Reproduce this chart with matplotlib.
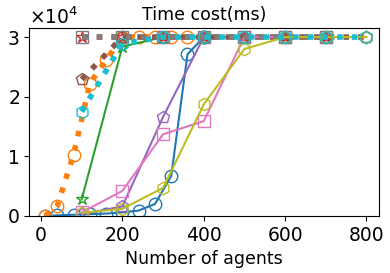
import matplotlib
matplotlib.use("Agg")
import matplotlib.pyplot as plt

# x positions
x_fine = [10, 40, 80, 120, 160, 200, 240, 280, 320, 360, 400]
x_coarse = [100, 200, 300, 400, 500, 600, 700]
x_coarse8 = [100, 200, 300, 400, 500, 600, 700, 800]

# time cost (ms) per series
blue = [0, 100, 200, 300, 400, 600, 900, 2000, 6700, 27100, 30000]
orange = [0, 1700, 10300, 22200, 26100, 30000, 30000, 30000, 30000, 30000, 30000]
green = [2800, 28400, 30000, 30000, 30000, 30000, 30000]
red = [30000, 30000, 30000, 30000, 30000, 30000, 30000]
purple = [300, 1600, 16600, 30000, 30000, 30000, 30000]
brown = [22900, 30000, 30000, 30000, 30000, 30000, 30000, 30000]
pink = [600, 4200, 13700, 15900, 30000, 30000, 30000]
grey = [30000, 30000, 30000, 30000, 30000, 30000, 30000]
olive = [500, 1200, 4700, 18700, 28000, 30000, 30000, 30000]
cyan = [17500, 28900, 30000, 30000, 30000, 30000, 30000, 30000]

fig = plt.figure(figsize=(3.9, 2.73), dpi=100)
ax = fig.add_axes([0.075, 0.209, 0.898, 0.688])

solid = dict(linestyle='-', linewidth=1.5, markersize=9, markerfacecolor='none')
dotted = dict(linestyle=':', linewidth=4, markersize=9, markerfacecolor='none')

ax.plot(x_fine, blue, marker='o', color='tab:blue', **solid)
ax.plot(x_fine, orange, marker='o', color='tab:orange', **dotted)
ax.plot(x_coarse, green, marker='*', color='tab:green', **solid)
ax.plot(x_coarse, red, marker='*', color='tab:red', **dotted)
ax.plot(x_coarse, purple, marker='p', color='tab:purple', **solid)
ax.plot(x_coarse8, brown, marker='p', color='tab:brown', **dotted)
ax.plot(x_coarse, pink, marker='s', color='tab:pink', **solid)
ax.plot(x_coarse, grey, marker='s', color='tab:gray', **dotted)
ax.plot(x_coarse8, olive, marker='h', color='tab:olive', **solid)
ax.plot(x_coarse8, cyan, marker='h', color='tab:cyan', **dotted)

ax.set_xlim(-29, 832)
ax.set_ylim(0, 31500)
ax.set_xticks([0, 200, 400, 600, 800])
ax.set_yticks([0, 10000, 20000, 30000])
ax.ticklabel_format(axis='y', style='sci', scilimits=(0, 0), useMathText=True)
ax.tick_params(labelsize=13.5)
ax.yaxis.get_offset_text().set_fontsize(13.5)
ax.set_title('Time cost(ms)', fontsize=12.5)
ax.set_xlabel('Number of agents', fontsize=12.5)

fig.savefig('out.png', dpi=100)
